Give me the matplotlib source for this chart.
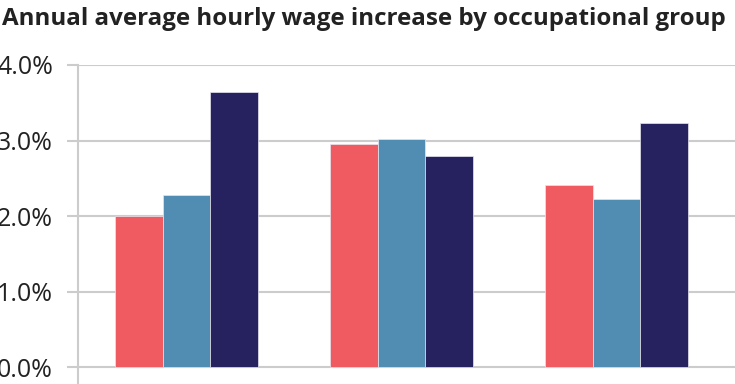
import matplotlib
matplotlib.use("Agg")
import matplotlib.pyplot as plt
import numpy as np

title = "Annual average hourly wage increase by occupational group"
groups = ["Group 1", "Group 2", "Group 3"]
series_a = [2.0, 2.95, 2.41]
series_b = [2.28, 3.02, 2.23]
series_c = [3.64, 2.80, 3.23]
yticks = [0, 1, 2, 3, 4]
ytick_labels = ["0.0%", "1.0%", "2.0%", "3.0%", "4.0%"]

colors = ["#EF5B60", "#518DB3", "#25225F"]

W, H = 735, 384
fig = plt.figure(figsize=(W / 100, H / 100), dpi=100)
ax = fig.add_axes([78 / W, 0, 1 - 78 / W, (384 - 65) / H])

x = np.arange(len(groups))
bw = 0.221
for i, (vals, c) in enumerate(zip([series_a, series_b, series_c], colors)):
    ax.bar(x + (i - 1) * bw, vals, width=bw, color=c, edgecolor="#e6e6ee",
           linewidth=0.5, zorder=3)

ax.set_xlim(-0.505, 2.551)
ax.set_ylim(-0.225, 4.0)
ax.set_yticks(yticks)
ax.set_yticklabels(ytick_labels, fontsize=18, color="#222222", family="Open Sans")
ax.set_xticks([])
ax.grid(axis="y", color="#cccccc", linewidth=1.5, zorder=0)
ax.tick_params(axis="y", length=8, width=1.5, color="#cccccc", pad=10)
for s in ["top", "right", "bottom"]:
    ax.spines[s].set_visible(False)
ax.spines["left"].set_color("#cccccc")
ax.spines["left"].set_linewidth(1.5)

fig.text(2 / W, 1 - 19 / H, title, fontsize=17.4, fontweight="bold",
         color="#222222", ha="left", va="center", family="Open Sans")

fig.savefig("out.png", dpi=100)
